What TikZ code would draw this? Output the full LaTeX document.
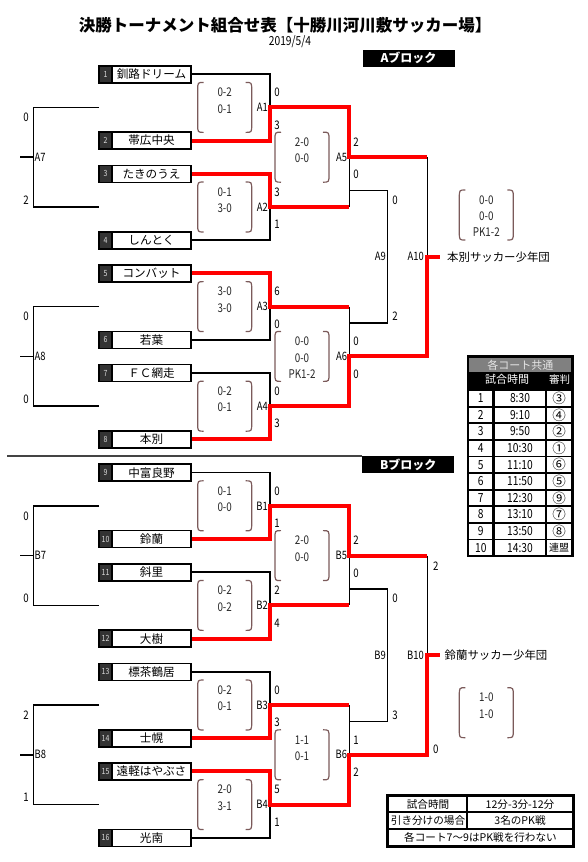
\documentclass[tikz,border=0pt]{standalone}
\usepackage{fontspec}
\setmainfont{Noto Sans CJK JP}
\newfontfamily\jp{Noto Sans CJK JP}
\newfontfamily\cond[FakeStretch=0.82]{Noto Sans CJK JP}
\definecolor{numgray}{HTML}{333333}
\definecolor{brkcol}{HTML}{7B5A5A}
\definecolor{hdrgray}{HTML}{808080}
\definecolor{divgray}{HTML}{444444}
\def\Y#1{74.2+33.2*#1}
\tikzset{
  blk/.style={line width=1.5pt, black, line join=miter},
  win/.style={line width=4pt, red, line join=miter},
  brkline/.style={line width=1.2pt, brkcol},
  tnum/.style={draw, line width=1.6pt, fill=numgray, minimum width=13pt, minimum height=17pt, inner sep=0pt, text=white!85!black, font=\cond\fontsize{8.5}{9}\selectfont},
  tname/.style={draw, line width=1.6pt, fill=white, minimum width=79pt, minimum height=17pt, inner sep=0pt, font=\jp\fontsize{11.6}{12}\selectfont},
  scn/.style={inner sep=0pt, font=\cond\fontsize{11.8}{12}\selectfont},
  lbl/.style={inner sep=0pt, font=\cond\fontsize{11.5}{12}\selectfont},
  btxt/.style={inner sep=0pt, font=\cond\fontsize{12}{12}\selectfont, text=black!85},
  blockbox/.style={fill=black, text=white, minimum width=92pt, minimum height=16.5pt, inner sep=0pt, font=\jp\bfseries\fontsize{12}{13}\selectfont},
  ttxt/.style={inner sep=0pt, font=\cond\fontsize{12.5}{13}\selectfont},
  rtxt/.style={inner sep=0pt, font=\jp\fontsize{10.6}{12}\selectfont},
}
\newcommand\team[3]{%
  \node[tnum] (c#1) at (105.5,\Y{#2}) {#1};
  \node[tname] (n#1) at (151.5,\Y{#2}) {#3};}
\newcommand\scbr[3]{%
  \draw[brkline] (#1+6,#3-25) .. controls (#1,#3-25) .. (#1,#3-17) -- (#1,#3+17) .. controls (#1,#3+25) .. (#1+6,#3+25);
  \draw[brkline] (#2-6,#3-25) .. controls (#2,#3-25) .. (#2,#3-17) -- (#2,#3+17) .. controls (#2,#3+25) .. (#2-6,#3+25);}
% round bracket: name, xl, xr, yc, line1, line2
\newcommand\rb[6]{%
  \scbr{#2}{#3}{#4}
  \node[btxt] (#1a) at ({(#2+#3)/2},#4-15) {#5};
  \node[btxt] (#1b) at ({(#2+#3)/2},#4+1.5) {#6};}
% match label and scores: name, x-line, yc, top score, bottom score, score x
\newcommand\mlab[6]{%
  \node[lbl, anchor=east] (l#1) at (#2-2,#3) {#1};
  \node[scn] (s#1a) at (#6,#3-15) {#4};
  \node[scn] (s#1b) at (#6,#3+17.5) {#5};}
% consolation on the left: name, ntop, nbot, score top, score bottom
\newcommand\cons[5]{%
  \coordinate (#1t) at (99,\Y{#2});
  \coordinate (#1b) at (99,\Y{#3});
  \coordinate (#1m) at (20,{(\Y{#2}+\Y{#3})/2});
  \draw[blk] (#1t) -- (33.3,\Y{#2}) -- (33.3,\Y{#3}) -- (#1b);
  \draw[blk] (#1m) -- (33.3,{(\Y{#2}+\Y{#3})/2});
  \node[lbl, anchor=west] (l#1) at (34.5,{(\Y{#2}+\Y{#3})/2}) {#1};
  \node[scn] (s#1a) at (26,\Y{#2}+10) {#4};
  \node[scn] (s#1b) at (26,\Y{#3}-7) {#5};}
\begin{document}
\begin{tikzpicture}[x=1pt,y=-1pt]
\useasboundingbox (0,0) rectangle (588,862);
\node[font=\jp\bfseries\fontsize{16.5}{18}\selectfont] (title) at (285,25) {決勝トーナメント組合せ表【十勝川河川敷サッカー場】};
\node[font=\cond\fontsize{12.5}{13}\selectfont] (date) at (290,42) {2019/5/4};
\node[blockbox] (blockA) at (408.5,58.3) {Aブロック};
\node[blockbox] (blockB) at (408.3,464.7) {Bブロック};
\coordinate (divend) at (362,456);
\draw[line width=1.5pt, divgray] (7,456) -- (divend);

% ---------- coordinates ----------
\foreach \nm/\n in {A1/1,A2/4,A3/7,A4/10,B1/13,B2/16,B3/19,B4/22}{\coordinate (\nm) at (270,\Y{\n});}
\foreach \nm/\n in {A5/2.5,A6/8.5,B5/14.5,B6/20.5}{\coordinate (\nm) at (349.3,\Y{\n});}
\coordinate (A10) at (427.3,\Y{5.5});
\coordinate (B10) at (427.3,\Y{17.5});

% ---------- teams ----------
\team{1}{0}{釧路ドリーム}
\team{2}{2}{帯広中央}
\team{3}{3}{たきのうえ}
\team{4}{5}{しんとく}
\team{5}{6}{コンバット}
\team{6}{8}{若葉}
\team{7}{9}{ＦＣ網走}
\team{8}{11}{本別}
\team{9}{12}{中富良野}
\team{10}{14}{鈴蘭}
\team{11}{15}{斜里}
\team{12}{17}{大樹}
\team{13}{18}{標茶鶴居}
\team{14}{20}{士幌}
\team{15}{21}{遠軽はやぶさ}
\team{16}{23}{光南}

% ---------- black lines ----------
\draw[blk] (n1.east) -| (A1);
\draw[blk] (n4.east) -| (A2);
\draw[blk] (n6.east) -| (A3);
\draw[blk] (n7.east) -| (A4);
\draw[blk] (A5) -- (349.3,\Y{4});
\draw[blk] (349.3,\Y{7}) -- (A6);
\draw[blk] (349.3,\Y{3.5}) -- (387.7,\Y{3.5}) -- (387.7,\Y{7.5}) -- (349.3,\Y{7.5});
\draw[blk] (427.3,\Y{2.5}) -- (A10);

\draw[blk] (n9.east) -| (B1);
\draw[blk] (n11.east) -| (B2);
\draw[blk] (n13.east) -| (B3);
\draw[blk] (n16.east) -| (B4);
\draw[blk] (B5) -- (349.3,\Y{16});
\draw[blk] (349.3,\Y{19}) -- (B6);
\draw[blk] (349.3,\Y{15.5}) -- (387.7,\Y{15.5}) -- (387.7,\Y{19.5}) -- (349.3,\Y{19.5});
\draw[blk] (427.3,\Y{14.5}) -- (B10);

% ---------- winner text ----------
\node[anchor=west, inner sep=0pt, font=\jp\fontsize{11.4}{12}\selectfont] (wA) at (447,\Y{5.5}) {本別サッカー少年団};
\node[anchor=west, inner sep=0pt, font=\jp\fontsize{11.4}{12}\selectfont] (wB) at (444.5,\Y{17.5}) {鈴蘭サッカー少年団};

% ---------- red lines ----------
\draw[win] (n2.east) -| (A1) -- (349.3,\Y{1}) -- (A5) -- (427.3,\Y{2.5});
\draw[win] (n3.east) -| (A2) -- (349.3,\Y{4});
\draw[win] (n5.east) -| (A3) -- (349.3,\Y{7});
\draw[win] (n8.east) -| (A4) -- (349.3,\Y{10}) -- (A6) -- (427.3,\Y{8.5}) -- (A10) -- (440,\Y{5.5});

\draw[win] (n10.east) -| (B1) -- (349.3,\Y{13}) -- (B5) -- (427.3,\Y{14.5});
\draw[win] (n12.east) -| (B2) -- (349.3,\Y{16});
\draw[win] (n14.east) -| (B3) -- (349.3,\Y{19});
\draw[win] (n15.east) -| (B4) -- (349.3,\Y{22}) -- (B6) -- (427.3,\Y{20.5}) -- (B10) -- (440,\Y{17.5});

% ---------- consolation (left) ----------
\cons{A7}{1}{4}{0}{2}
\cons{A8}{7}{10}{0}{0}
\cons{B7}{13}{16}{0}{0}
\cons{B8}{19}{22}{2}{1}

% ---------- match labels and scores ----------
\mlab{A1}{270}{\Y{1}}{0}{3}{277}
\mlab{A2}{270}{\Y{4}}{3}{1}{277}
\mlab{A3}{270}{\Y{7}}{6}{0}{277}
\mlab{A4}{270}{\Y{10}}{0}{3}{277}
\mlab{A5}{349.3}{\Y{2.5}}{2}{0}{356}
\mlab{A6}{349.3}{\Y{8.5}}{0}{0}{356}
\mlab{B1}{270}{\Y{13}}{0}{1}{277}
\mlab{B2}{270}{\Y{16}}{2}{4}{277}
\mlab{B3}{270}{\Y{19}}{0}{3}{277}
\mlab{B4}{270}{\Y{22}}{5}{1}{277}
\mlab{B5}{349.3}{\Y{14.5}}{2}{0}{356}
\mlab{B6}{349.3}{\Y{20.5}}{1}{2}{356}

\node[lbl, anchor=east] (lA9) at (386,\Y{5.5}) {A9};
\node[lbl, anchor=east] (lA10) at (424,\Y{5.5}) {A10};
\node[lbl, anchor=east] (lB9) at (386,\Y{17.5}) {B9};
\node[lbl, anchor=east] (lB10) at (424,\Y{17.5}) {B10};
\node[scn] (sA9a) at (395,\Y{3.5}+9.5) {0};
\node[scn] (sA9b) at (395,\Y{7.5}-6.5) {2};
\node[scn] (sB9a) at (395,\Y{15.5}+9.5) {0};
\node[scn] (sB9b) at (395,\Y{19.5}-6.5) {3};
\node[scn] (sB10a) at (435.7,\Y{14.5}+10.4) {2};
\node[scn] (sB10b) at (435.7,\Y{20.5}-6) {0};

% ---------- score brackets ----------
\rb{bA1}{197.7}{251.7}{\Y{1}}{0-2}{0-1}
\rb{bA2}{197.7}{251.7}{\Y{4}}{0-1}{3-0}
\rb{bA3}{197.7}{251.7}{\Y{7}}{3-0}{3-0}
\rb{bA4}{197.7}{251.7}{\Y{10}}{0-2}{0-1}
\rb{bA5}{275}{329}{\Y{2.5}}{2-0}{0-0}
\rb{bA6}{275}{329}{\Y{8.5}}{0-0}{0-0}
\node[btxt] (bA6c) at (302,\Y{8.5}+17.5) {PK1-2};
\rb{bA10}{459.3}{513.3}{215}{0-0}{0-0}
\node[btxt] (bA10c) at (486.3,215+17.5) {PK1-2};

\rb{bB1}{197.7}{251.7}{\Y{13}}{0-1}{0-0}
\rb{bB2}{197.7}{251.7}{\Y{16}}{0-2}{0-2}
\rb{bB3}{197.7}{251.7}{\Y{19}}{0-2}{0-1}
\rb{bB4}{197.7}{251.7}{\Y{22}}{2-0}{3-1}
\rb{bB5}{275}{329}{\Y{14.5}}{2-0}{0-0}
\rb{bB6}{275}{329}{\Y{20.5}}{1-1}{0-1}
\rb{bB10}{459.3}{513.3}{712.7}{1-0}{1-0}

% ---------- schedule table ----------
\fill[black] (466.7,355) rectangle (574,556.7);
\fill[hdrgray] (469.3,358.3) rectangle (571.4,371.7);
\node[inner sep=0pt, text=white!90!black, font=\jp\fontsize{11}{12}\selectfont] (thead) at (520.3,365) {各コート共通};
\node[inner sep=0pt, text=white, font=\jp\fontsize{11}{12}\selectfont] (th1) at (507,379.2) {試合時間};
\node[inner sep=0pt, text=white, font=\jp\fontsize{10.5}{12}\selectfont] (th2) at (559.5,379.2) {審判};
\foreach \i/\t/\r in {1/8:30/③,2/9:10/④,3/9:50/②,4/10:30/①,5/11:10/⑥,6/11:50/⑤,7/12:30/⑨,8/13:10/⑦,9/13:50/⑧,10/14:30/}{
  \pgfmathsetmacro\yy{398.3+16.6*(\i-1)}
  \fill[white] (469.3,\yy-7.4) rectangle (492.3,\yy+7.4);
  \fill[white] (495,\yy-7.4) rectangle (545,\yy+7.4);
  \fill[white] (547.3,\yy-7.4) rectangle (570.7,\yy+7.4);
  \node[ttxt] (ra\i) at (480.8,\yy) {\i};
  \node[ttxt] (rb\i) at (520,\yy) {\t};
  \node[inner sep=0pt, font=\jp\fontsize{13.5}{14}\selectfont] (rc\i) at (559,\yy) {\r};
}
\node[inner sep=0pt, font=\jp\fontsize{10}{11}\selectfont] (rc10b) at (559,{398.3+16.6*9}) {連盟};

% ---------- rules table ----------
\draw[line width=2pt] (387.7,812.2) -- (573.3,812.2);
\draw[line width=2pt] (387.7,828.6) -- (573.3,828.6);
\draw[line width=2pt] (467.3,795.7) -- (467.3,828.6);
\draw[line width=3pt] (387.7,795.7) rectangle (573.3,846.7);
\node[rtxt] (q1) at (428,804.3) {試合時間};
\node[rtxt] (q2) at (520,804.3) {12分-3分-12分};
\node[rtxt] (q3) at (428,820.2) {引き分けの場合};
\node[rtxt] (q4) at (520,820.2) {3名のPK戦};
\node[rtxt] (q5) at (480.5,837.5) {各コート7〜9はPK戦を行わない};
\end{tikzpicture}
\end{document}
